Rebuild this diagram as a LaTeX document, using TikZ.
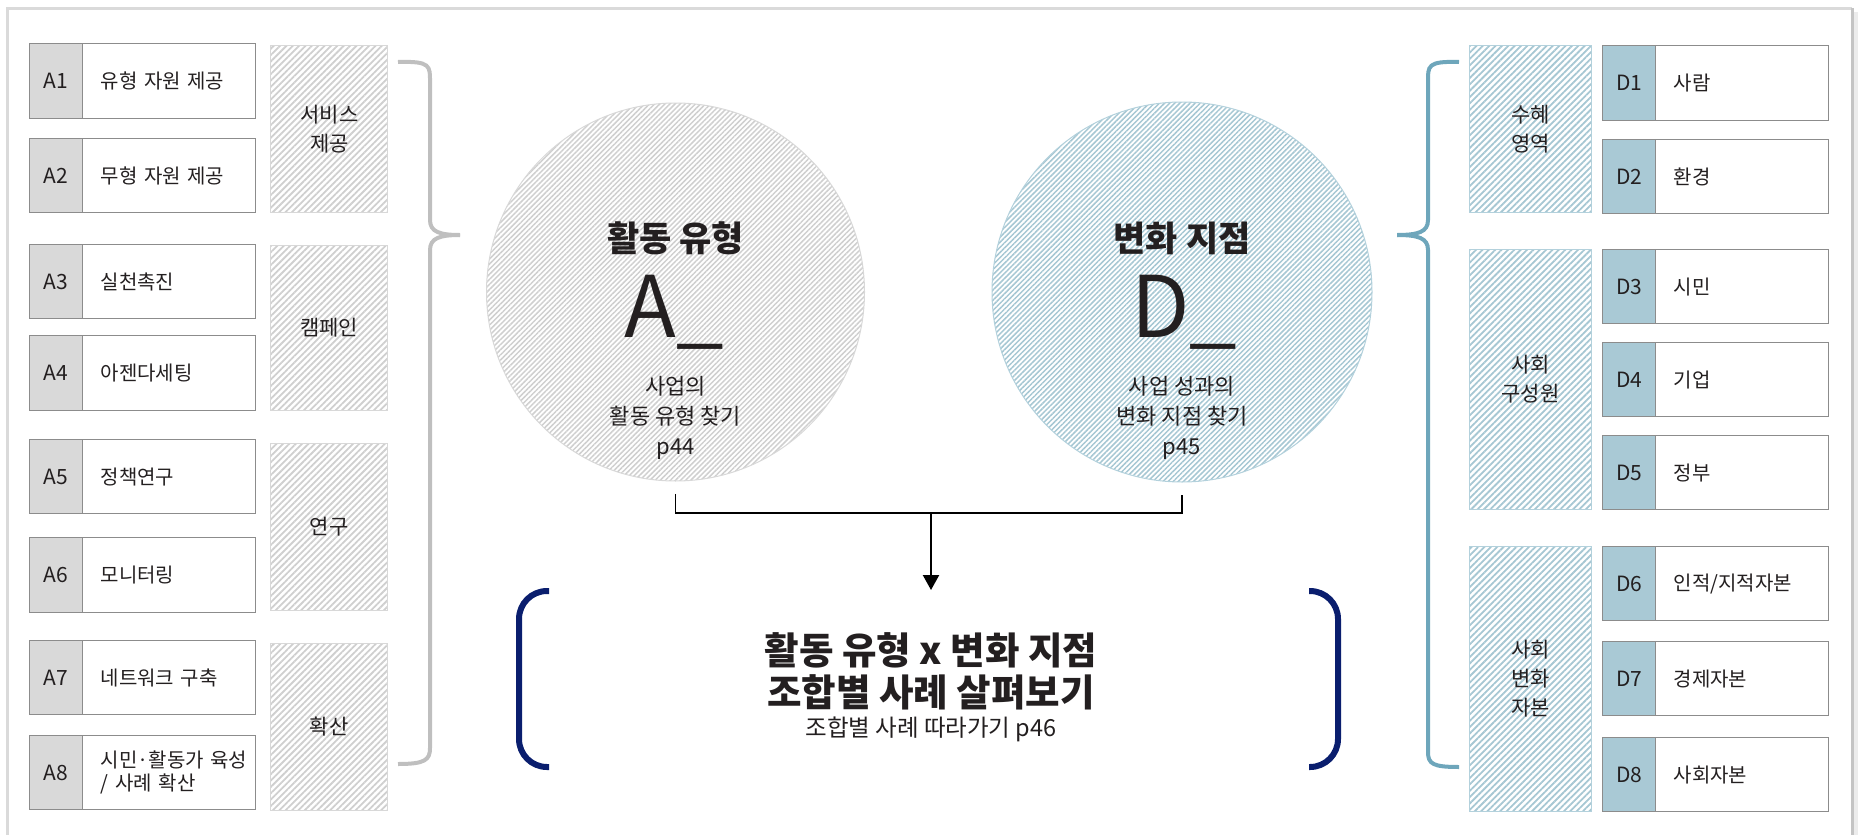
\documentclass[tikz,border=0pt]{standalone}
\usepackage{fontspec}
\setmainfont{Noto Sans CJK KR}
\usetikzlibrary{patterns.meta,arrows.meta}

\definecolor{framegray}{HTML}{DADADA}
\definecolor{shadowgray}{HTML}{C4C4C4}
\definecolor{boxline}{HTML}{8C8C8C}
\definecolor{keygray}{HTML}{D9D9D9}
\definecolor{keyblue}{HTML}{A9C9D5}
\definecolor{hatchgray}{HTML}{CFCFCF}
\definecolor{hatchgrayedge}{HTML}{D8D8D8}
\definecolor{hatchblue}{HTML}{A6C7D3}
\definecolor{hatchblueedge}{HTML}{B3D1DC}
\definecolor{bracegray}{HTML}{BFBFBF}
\definecolor{braceblue}{HTML}{6EA6BB}
\definecolor{navy}{HTML}{0A1E6E}
\definecolor{textblack}{HTML}{231F20}

\begin{document}
\begin{tikzpicture}[x=1pt,y=-1pt,text=textblack,
        keya/.style={draw=boxline,fill=keygray,line width=1.3pt,anchor=north west,minimum width=53,minimum height=75,inner sep=0pt,font=\fontsize{21}{24}\selectfont},
        keyd/.style={keya,fill=keyblue},
        item/.style={draw=boxline,line width=1.3pt,anchor=north west,minimum height=75,text width=173pt,inner xsep=0pt,inner ysep=0pt,align=left,execute at begin node={\leftskip=18pt},font=\fontsize{20}{23}\selectfont},
        groupa/.style={draw=hatchgrayedge,line width=1pt,pattern={Lines[angle=45,distance=4.5pt,line width=1.8pt]},pattern color=hatchgray,anchor=north west,minimum width=117,align=center,font=\fontsize{21}{29}\selectfont},
        groupd/.style={groupa,draw=hatchblueedge,pattern color=hatchblue,minimum width=122},
        circa/.style={circle,inner sep=0pt,minimum size=378,draw=hatchgrayedge,line width=1pt,pattern={Lines[angle=45,distance=3.6pt,line width=1.5pt]},pattern color=hatchgray},
        circd/.style={circa,minimum size=380,draw=hatchblueedge,pattern color=hatchblue},
        headline/.style={font=\fontsize{35}{40}\selectfont\bfseries,inner sep=0pt},
        bigletter/.style={anchor=base,font=\fontsize{85}{90}\selectfont,inner sep=0pt},
        subline/.style={align=center,font=\fontsize{22}{30}\selectfont,inner sep=0pt},
        restitle/.style={align=center,font=\fontsize{37.5}{42}\selectfont\bfseries,inner sep=0pt},
        ressub/.style={font=\fontsize{23.5}{26}\selectfont,inner sep=0pt},
        link/.style={line width=1.8pt,black},
        flow/.style={line width=2.2pt,black,-{Triangle[width=16pt,length=15pt]}},
        bracketline/.style={line width=6pt,navy,rounded corners=28pt}]
        \useasboundingbox (0,0) rectangle (1863,835);
        \draw[framegray,line width=3pt] (7,845) -- (7,8) -- (1852,8);
        \draw[shadowgray,line width=3pt] (1852,8) -- (1852,845);
        \draw[framegray!50,line width=4pt] (1856,12) -- (1856,845);
        \draw
            (82,43) node[item] (a1){유형 자원 제공}
            (29,43) node[keya] (ka1){A1}
            (82,138) node[item,minimum height=74] (a2){무형 자원 제공}
            (29,138) node[keya,minimum height=74] (ka2){A2}
            (82,244) node[item,minimum height=74] (a3){실천촉진}
            (29,244) node[keya,minimum height=74] (ka3){A3}
            (82,335) node[item] (a4){아젠다세팅}
            (29,335) node[keya] (ka4){A4}
            (82,439) node[item,minimum height=74] (a5){정책연구}
            (29,439) node[keya,minimum height=74] (ka5){A5}
            (82,537) node[item] (a6){모니터링}
            (29,537) node[keya] (ka6){A6}
            (82,640) node[item,minimum height=74] (a7){네트워크 구축}
            (29,640) node[keya,minimum height=74] (ka7){A7}
            (82,735) node[item,minimum height=74] (a8){시민·활동가 육성\\/ 사례 확산}
            (29,735) node[keya,minimum height=74] (ka8){A8};
        \draw
            (270,45) node[groupa,minimum height=167] (ga1){서비스\\제공}
            (270,245) node[groupa,minimum height=165] (ga2){캠페인}
            (270,443) node[groupa,minimum height=167] (ga3){연구}
            (270,643) node[groupa,minimum height=167] (ga4){확산};
        \draw
            (1655,45) node[item] (d1){사람}
            (1602,45) node[keyd] (kd1){D1}
            (1655,139) node[item,minimum height=74] (d2){환경}
            (1602,139) node[keyd,minimum height=74] (kd2){D2}
            (1655,249) node[item,minimum height=74] (d3){시민}
            (1602,249) node[keyd,minimum height=74] (kd3){D3}
            (1655,342) node[item,minimum height=74] (d4){기업}
            (1602,342) node[keyd,minimum height=74] (kd4){D4}
            (1655,435) node[item,minimum height=74] (d5){정부}
            (1602,435) node[keyd,minimum height=74] (kd5){D5}
            (1655,546) node[item,minimum height=74] (d6){인적/지적자본}
            (1602,546) node[keyd,minimum height=74] (kd6){D6}
            (1655,641) node[item,minimum height=74] (d7){경제자본}
            (1602,641) node[keyd,minimum height=74] (kd7){D7}
            (1655,737) node[item,minimum height=74] (d8){사회자본}
            (1602,737) node[keyd,minimum height=74] (kd8){D8};
        \draw
            (1469,45) node[groupd,minimum height=167] (gd1){수혜\\영역}
            (1469,249) node[groupd,minimum height=260] (gd2){사회\\구성원}
            (1469,546) node[groupd,minimum height=265] (gd3){사회\\변화\\자본};
        \draw[bracegray,line width=4pt] (398,62) .. controls (431,61) and (430,66) .. (430,82) -- (430,220) .. controls (430,232) and (440,235) .. (460,235);
        \draw[bracegray,line width=4pt] (460,235) .. controls (440,235) and (430,238) .. (430,250) -- (430,748) .. controls (430,760) and (425,764) .. (398,764);
        \draw[braceblue,line width=4pt] (1459,62) .. controls (1427,61) and (1428,66) .. (1428,82) -- (1428,220) .. controls (1428,232) and (1418,235) .. (1397,235);
        \draw[braceblue,line width=4pt] (1397,235) .. controls (1418,235) and (1428,238) .. (1428,250) -- (1428,752) .. controls (1428,764) and (1433,767) .. (1459,767);
        \draw
            (675.5,292) node[circa] (lc){}
            (1182,292) node[circd] (rc){}
            (675.5,238) node[headline] (lh){활동 유형}
            (674,337) node[bigletter] (la){A\_}
            (675.5,418) node[subline] (ls){사업의\\활동 유형 찾기\\p44}
            (1182,238) node[headline] (rh){변화 지점}
            (1184,337) node[bigletter] (rd){D\_}
            (1182,418) node[subline] (rs){사업 성과의\\변화 지점 찾기\\p45}
            (931,671) node[restitle] (res){활동 유형 x 변화 지점\\조합별 사례 살펴보기}
            (931,729) node[ressub] (rsub){조합별 사례 따라가기 p46};
        \coordinate (lj) at ([yshift=-12pt]lc.south);
        \coordinate (rj) at ([yshift=-12pt]rc.south);
        \coordinate (mj) at (931,513);
        \coordinate (rtop) at (931,590);
        \draw[link] (lj) |- (mj) -| (rj);
        \draw[flow] (mj) -- (rtop);
        \draw[bracketline] (549,591) -- (519,591) -- (519,767) -- (549,767);
        \draw[bracketline] (1309,591) -- (1338,591) -- (1338,767) -- (1309,767);
  \end{tikzpicture}
\end{document}
